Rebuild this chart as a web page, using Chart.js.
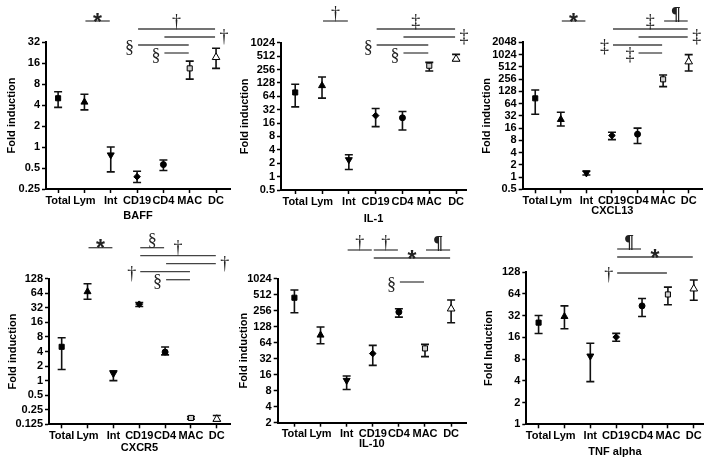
<!DOCTYPE html>
<html>
<head>
<meta charset="utf-8">
<script src="https://cdn.jsdelivr.net/npm/chart.js@4.4.1/dist/chart.umd.min.js"></script>
<style>
  body { margin: 0; background: #fff; }
  #fig { position: relative; width: 709px; height: 463px; }
  #fig canvas { position: absolute; }
</style>
</head>
<body>
<div id="fig">
  <canvas id="cBaff"   width="236" height="231" style="left:0;top:0"></canvas>
  <canvas id="cIl1"    width="236" height="231" style="left:236px;top:0"></canvas>
  <canvas id="cCxcl13" width="237" height="231" style="left:472px;top:0"></canvas>
  <canvas id="cCxcr5"  width="236" height="232" style="left:0;top:231px"></canvas>
  <canvas id="cIl10"   width="236" height="232" style="left:236px;top:231px"></canvas>
  <canvas id="cTnf"    width="237" height="232" style="left:472px;top:231px"></canvas>
</div>
<script>
// cell types on the x axis
const categories = ['Total', 'Lym', 'Int', 'CD19', 'CD4', 'MAC', 'DC'];

// fold induction: mean, lower and upper error bar ends
const baffMean = [5.0, 4.4, 0.77, 0.375, 0.56, 13.4, 19.3];
const baffLow  = [3.7, 3.4, 0.44, 0.31, 0.46, 9.4, 13.4];
const baffHigh = [6.2, 5.7, 1.0, 0.45, 0.65, 17, 26];
const baffTicks = [0.25, 0.5, 1, 2, 4, 8, 16, 32];

const il1Mean = [78, 111, 2.4, 23.5, 21, 311, 440];
const il1Low  = [37, 58, 1.45, 13.3, 11.2, 237, 405];
const il1High = [119, 173, 3.1, 34, 29, 370, 560];
const il1Ticks = [0.5, 1, 2, 4, 8, 16, 32, 64, 128, 256, 512, 1024];

const cxcl13Mean = [86, 26, 1.26, 10.5, 11.3, 252, 684];
const cxcl13Low  = [35, 18, 1.12, 8.3, 6.7, 167, 405];
const cxcl13High = [138, 39, 1.4, 12.6, 15.9, 321, 1020];
const cxcl13Ticks = [0.5, 1, 2, 4, 8, 16, 32, 64, 128, 256, 512, 1024, 2048];

const cxcr5Mean = [5.0, 69, 1.4, 38, 3.9, 0.169, 0.16];
const cxcr5Low  = [1.7, 48, 1.0, 34, 3.4, 0.16, 0.145];
const cxcr5High = [7.7, 101, 1.6, 41, 4.95, 0.18, 0.19];
const cxcr5Ticks = [0.125, 0.25, 0.5, 1, 2, 4, 8, 16, 32, 64, 128];

const il10Mean = [449, 89, 12.5, 40, 242, 50, 278];
const il10Low  = [234, 61, 8.4, 24, 194, 35, 152];
const il10High = [626, 126, 15.1, 57, 278, 59.5, 406];
const il10Ticks = [2, 4, 8, 16, 32, 64, 128, 256, 512, 1024];

const tnfMean = [25.5, 31, 8.8, 16.1, 43.5, 62.6, 75];
const tnfLow  = [18, 21, 3.9, 14.1, 31, 45, 52];
const tnfHigh = [32, 43.5, 13.2, 18.1, 55, 79, 99];
const tnfTicks = [1, 2, 4, 8, 16, 32, 64, 128];

// significance brackets: [from category, to category, row, symbol, where the symbol goes]
const baffSig = [[1, 2, 0, '*', 'mid'], [3, 6, 1, '†', 'mid'], [4, 6, 2, '†', 'end'], [3, 5, 3, '§', 'start'], [4, 5, 4, '§', 'start']];
const il1Sig = [[1, 2, 0, '†', 'mid'], [3, 6, 1, '‡', 'mid'], [4, 6, 2, '‡', 'end'], [3, 5, 3, '§', 'start'], [4, 5, 4, '§', 'start']];
const cxcl13Sig = [[1, 2, 0, '*', 'mid'], [5, 6, 0, '¶', 'mid'], [3, 6, 1, '‡', 'mid'], [4, 6, 2, '‡', 'end'], [3, 5, 3, '‡', 'start'], [4, 5, 4, '‡', 'start']];
const cxcr5Sig = [[1, 2, 0, '*', 'mid'], [3, 4, 0, '§', 'mid'], [3, 6, 1, '†', 'mid'], [4, 6, 2, '†', 'end'], [3, 5, 3, '†', 'start'], [4, 5, 4, '§', 'start']];
const il10Sig = [[2, 3, 0, '†', 'mid'], [3, 4, 0, '†', 'mid'], [5, 6, 0, '¶', 'mid'], [3, 6, 1, '*', 'mid'], [4, 5, 4, '§', 'start']];
const tnfSig = [[3, 4, 0, '¶', 'mid'], [3, 6, 1, '*', 'mid'], [3, 5, 3, '†', 'start']];

// marker look per category
const markerStyle = ['rect', 'triangle', 'triangle', 'rectRot', 'circle', 'rect', 'triangle'];
const markerRotation = [0, 0, 180, 0, 0, 0, 0];
const markerFill = ['#000', '#000', '#000', '#000', '#000', '#cfcfcf', '#fff'];
const markerRadius = [3.6, 4, 4, 3.3, 3, 3.6, 4.4];

const FONT = { family: '"Liberation Sans", Arial, sans-serif', size: 11, weight: 'bold' };

function errorBars(low, high) {
  return {
    id: 'errorBars',
    beforeDatasetsDraw(chart) {
      const { ctx, scales: { x, y } } = chart;
      ctx.save();
      ctx.strokeStyle = '#111';
      ctx.lineWidth = 1.6;
      low.forEach((lo, i) => {
        const px = x.getPixelForValue(i);
        const yLo = y.getPixelForValue(lo);
        const yHi = y.getPixelForValue(high[i]);
        ctx.beginPath();
        ctx.moveTo(px, yLo); ctx.lineTo(px, yHi);
        ctx.moveTo(px - 4, yLo); ctx.lineTo(px + 4, yLo);
        ctx.moveTo(px - 4, yHi); ctx.lineTo(px + 4, yHi);
        ctx.stroke();
      });
      ctx.restore();
    }
  };
}

function sigMarks(rows, top) {
  return {
    id: 'sigMarks',
    afterDraw(chart) {
      const { ctx, scales: { x } } = chart;
      ctx.save();
      rows.forEach(([from, to, row, sym, place]) => {
        const x1 = x.getPixelForValue(from) + 1;
        const x2 = x.getPixelForValue(to) - 1;
        const ly = top + row * 8;
        ctx.strokeStyle = '#444';
        ctx.lineWidth = 1.3;
        ctx.beginPath();
        ctx.moveTo(x1, ly); ctx.lineTo(x2, ly);
        ctx.stroke();

        if (sym === '*') ctx.font = 'bold 23px "Liberation Sans"';
        else if (sym === '¶') ctx.font = 'bold 18px "Liberation Serif"';
        else ctx.font = '18px "Liberation Serif"';
        const m = ctx.measureText(sym);
        const asc = m.actualBoundingBoxAscent, desc = m.actualBoundingBoxDescent;
        let cx, cy;
        if (place === 'mid') { cx = (x1 + x2) / 2; cy = ly - (asc + desc) / 2 + 0.5; }
        else if (place === 'end') { cx = x2 + 9; cy = ly; }
        else { cx = x1 - 4 - m.width / 2; cy = ly + 2; }
        ctx.fillStyle = '#222';
        ctx.textAlign = 'center';
        ctx.textBaseline = 'alphabetic';
        ctx.fillText(sym, cx, cy + (asc - desc) / 2);
      });
      ctx.restore();
    }
  };
}

function makePanel(id, p) {
  const canvas = document.getElementById(id);
  const cw = canvas.width, ch = canvas.height;
  const axisGrid = { display: true, drawOnChartArea: false, drawTicks: true, tickLength: 4, tickWidth: 1.5, color: '#000' };
  const axisBorder = { display: true, color: '#000', width: 2 };

  return new Chart(canvas, {
    type: 'scatter',
    data: {
      datasets: [{
        data: p.mean.map((v, i) => ({ x: i, y: v })),
        pointStyle: markerStyle,
        rotation: markerRotation,
        pointRadius: markerRadius,
        backgroundColor: markerFill,
        borderColor: '#000',
        borderWidth: 1
      }]
    },
    options: {
      responsive: false,
      animation: false,
      devicePixelRatio: 1,
      events: [],
      layout: { padding: { left: 0, top: p.top - p.cy, right: p.cx + cw - p.right, bottom: 0 } },
      plugins: { legend: { display: false }, tooltip: { enabled: false } },
      scales: {
        x: {
          type: 'linear', min: p.xmin, max: p.xmax,
          afterBuildTicks: s => { s.ticks = categories.map((c, i) => ({ value: i })); },
          afterFit: s => { s.height = p.cy + ch - p.bottom; },
          ticks: { callback: v => categories[v], autoSkip: false, maxRotation: 0, minRotation: 0, padding: 1, font: FONT, color: '#000' },
          grid: axisGrid,
          border: axisBorder,
          title: { display: true, text: p.name, font: FONT, color: '#000', padding: { top: 0, bottom: p.xTitlePad } }
        },
        y: {
          type: 'logarithmic', min: p.ticks[0], max: p.ticks[p.ticks.length - 1],
          afterBuildTicks: s => { s.ticks = p.ticks.map(v => ({ value: v })); },
          afterFit: s => { s.width = p.left - p.cx; },
          ticks: { callback: v => String(v), autoSkip: false, padding: 2, font: FONT, color: '#000' },
          grid: axisGrid,
          border: axisBorder,
          title: { display: true, text: p.yTitle, font: FONT, color: '#000', padding: { top: p.yTitlePad, bottom: 0 } }
        }
      }
    },
    plugins: [errorBars(p.low, p.high), sigMarks(p.sig, p.sigTop - p.cy)]
  });
}

document.addEventListener('DOMContentLoaded', () => {
  makePanel('cBaff', { name: 'BAFF', yTitle: 'Fold induction', mean: baffMean, low: baffLow, high: baffHigh, ticks: baffTicks, sig: baffSig,
    cx: 0, cy: 0, left: 46, right: 230, top: 42, bottom: 189, xmin: -0.46, xmax: 6.53, yTitlePad: 5.7, xTitlePad: 8.1, sigTop: 21 });
  makePanel('cIl1', { name: 'IL-1', yTitle: 'Fold induction', mean: il1Mean, low: il1Low, high: il1High, ticks: il1Ticks, sig: il1Sig,
    cx: 236, cy: 0, left: 281, right: 466, top: 42.7, bottom: 190, xmin: -0.53, xmax: 6.37, yTitlePad: 2.1, xTitlePad: 5.7, sigTop: 21 });
  makePanel('cCxcl13', { name: 'CXCL13', yTitle: 'Fold induction', mean: cxcl13Mean, low: cxcl13Low, high: cxcl13High, ticks: cxcl13Ticks, sig: cxcl13Sig,
    cx: 472, cy: 0, left: 522.7, right: 702, top: 42.3, bottom: 189.3, xmin: -0.49, xmax: 6.52, yTitlePad: 8.7, xTitlePad: 13, sigTop: 21 });
  makePanel('cCxcr5', { name: 'CXCR5', yTitle: 'Fold induction', mean: cxcr5Mean, low: cxcr5Low, high: cxcr5High, ticks: cxcr5Ticks, sig: cxcr5Sig,
    cx: 0, cy: 231, left: 49, right: 230, top: 278.7, bottom: 424.3, xmin: -0.49, xmax: 6.51, yTitlePad: 6.7, xTitlePad: 8.7, sigTop: 247.7 });
  makePanel('cIl10', { name: 'IL-10', yTitle: 'Fold induction', mean: il10Mean, low: il10Low, high: il10High, ticks: il10Ticks, sig: il10Sig,
    cx: 236, cy: 231, left: 277.7, right: 466, top: 278.7, bottom: 422.7, xmin: -0.64, xmax: 6.57, yTitlePad: 1.7, xTitlePad: 12, sigTop: 250 });
  makePanel('cTnf', { name: 'TNF alpha', yTitle: 'Fold Induction', mean: tnfMean, low: tnfLow, high: tnfHigh, ticks: tnfTicks, sig: tnfSig,
    cx: 472, cy: 231, left: 526.3, right: 705, top: 272, bottom: 424.3, xmin: -0.475, xmax: 6.38, yTitlePad: 10.1, xTitlePad: 4.7, sigTop: 249 });
});
</script>
</body>
</html>
